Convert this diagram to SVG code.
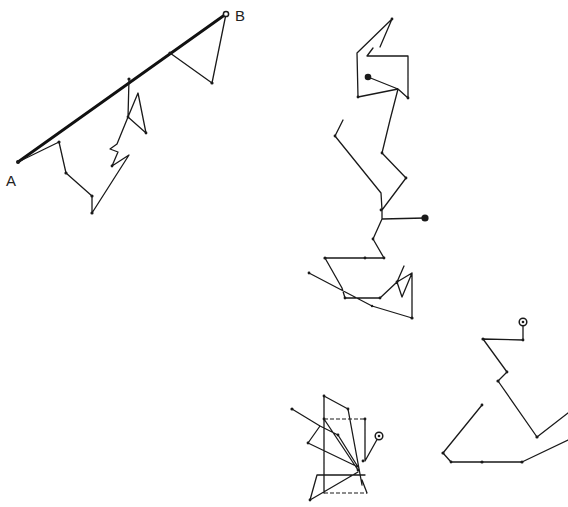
<svg xmlns="http://www.w3.org/2000/svg" width="568" height="507" viewBox="0 0 568 507">
<style>
.w{fill:none;stroke:#1a1a1a;stroke-width:1.3;stroke-linejoin:round;stroke-linecap:round}
.d{fill:none;stroke:#1a1a1a;stroke-width:1.2;stroke-dasharray:4 2}
.ab{fill:none;stroke:#111;stroke-width:2.8;stroke-linecap:round}
.v{fill:#1a1a1a}
.lbl{font-family:"Liberation Sans",Arial,sans-serif;font-size:15px;fill:#222}
.c{fill:#fff;stroke:#1a1a1a;stroke-width:1.5}
</style>
<rect width="568" height="507" fill="#fff"/>
<g id="walk-ab">
<line class="ab" x1="18" y1="162" x2="226" y2="14"/>
<path class="w" d="M18,162 L59,142 L66,173 L92,196 L92,213 L129,155 L112,166 L118,152 L110,149 L117,144 L128,117 L138,93 L146,133 L128,117 L129,79 M170,53 L212,83 L226,14"/>
<g class="v">
<circle cx="18" cy="162" r="2"/><circle cx="59" cy="142" r="1.6"/><circle cx="66" cy="173" r="1.6"/><circle cx="92" cy="196" r="1.6"/><circle cx="92" cy="213" r="1.6"/><circle cx="129" cy="79" r="1.6"/><circle cx="170" cy="53" r="1.6"/><circle cx="212" cy="83" r="1.6"/><circle cx="146" cy="133" r="1.4"/><circle cx="112" cy="166" r="1.4"/><circle cx="128" cy="117" r="1.4"/>
</g>
<circle class="c" cx="226" cy="14" r="2.6"/>
</g>
<g id="label-a"><text class="lbl" x="6" y="186">A</text></g>
<g id="label-b"><text class="lbl" x="235" y="21">B</text></g>
<g id="walk-mid">
<path class="w" d="M368,77 L398,89 L358,97 L357,53 L392,19 L380,47 M373,48 L367,56 L408,56 L408,98 L398,89 L390,120 L382,153 L406,178 L382,210 L381,193 L335,136 L343,120 M382,210 L382,219 L425,218 M382,219 L373,239 L384,258 L325,258 L342,288 L345,298 L380,298 L397,282 L404,266 M397,282 L412,273 L402,297 L397,282 M412,273 L412,318 L372,306 L309,273"/>
<g class="v">
<circle cx="368" cy="77" r="3.3"/><circle cx="425" cy="218" r="3.6"/>
<circle cx="358" cy="97" r="1.4"/><circle cx="408" cy="98" r="1.4"/><circle cx="382" cy="153" r="1.4"/><circle cx="406" cy="178" r="1.4"/><circle cx="381" cy="210" r="1.4"/><circle cx="335" cy="136" r="1.4"/><circle cx="373" cy="239" r="1.4"/><circle cx="384" cy="258" r="1.4"/><circle cx="365" cy="258" r="1.4"/><circle cx="325" cy="258" r="1.6"/><circle cx="345" cy="298" r="1.4"/><circle cx="380" cy="298" r="1.4"/><circle cx="397" cy="282" r="1.4"/><circle cx="412" cy="318" r="1.6"/><circle cx="372" cy="306" r="1.2"/><circle cx="309" cy="273" r="1.4"/><circle cx="392" cy="19" r="1.4"/>
</g>
</g>
<g id="walk-bottom-left">
<path class="w" d="M324,396 L348,409 L362,485 M324,396 L324,493 M367,493 L362,480 M365,419 L365,461 L379,436 M292,409 L320,426 L338,435 L358,467 M320,426 L308,443 L358,467 M324,419 L358,470 M317,475 L365,475 M317,475 L310,500 L358,472"/>
<path class="d" d="M324,419 L365,419 M324,493 L367,493"/>
<g class="v">
<circle cx="324" cy="396" r="1.4"/><circle cx="348" cy="409" r="1.4"/><circle cx="292" cy="409" r="1.6"/><circle cx="338" cy="435" r="1.4"/><circle cx="308" cy="443" r="1.4"/><circle cx="363" cy="461" r="1.4"/><circle cx="358" cy="470" r="1.4"/><circle cx="310" cy="500" r="1.4"/><circle cx="324" cy="419" r="1.4"/><circle cx="365" cy="419" r="1.4"/>
</g>
<circle class="c" cx="379" cy="436" r="3.8"/><circle class="v" cx="379" cy="436" r="1.3"/>
</g>
<g id="walk-bottom-right">
<path class="w" d="M523,322 L523,340 L483,339 L507,372 L498,381 L537,437 L568,413 M482,405 L443,453 L451,462 L482,462 L522,462 L568,440"/>
<g class="v">
<circle cx="523" cy="340" r="1.4"/><circle cx="483" cy="339" r="1.6"/><circle cx="507" cy="372" r="1.4"/><circle cx="498" cy="381" r="1.6"/><circle cx="537" cy="437" r="1.6"/><circle cx="482" cy="405" r="1.4"/><circle cx="443" cy="453" r="1.6"/><circle cx="451" cy="462" r="1.4"/><circle cx="482" cy="462" r="1.6"/><circle cx="522" cy="462" r="1.6"/>
</g>
<circle class="c" cx="523" cy="322" r="3.8"/><circle class="v" cx="523" cy="322" r="1.3"/>
</g>
</svg>
